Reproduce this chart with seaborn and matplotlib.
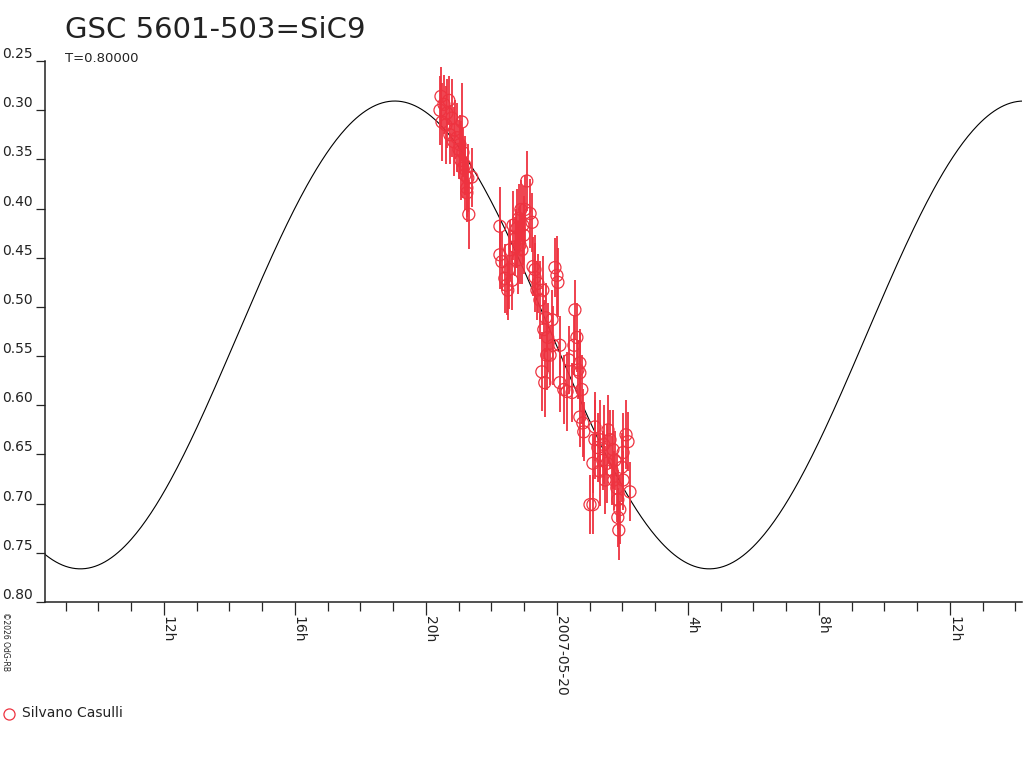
import numpy as np
import pandas as pd
import matplotlib
matplotlib.use("Agg")
import matplotlib.pyplot as plt
import seaborn as sns

################################################################################
# data: hours relative to 2007-05-20 00:00, magnitude, error
################################################################################

hours = [
    # first group, evening of 05-19
    -3.54, -3.57, -3.51, -3.45, -3.36, -3.30, -3.21, -3.12, -3.05, -2.99,
    -2.93, -2.87, -2.81, -2.75, -2.69, -3.39, -3.27, -3.15, -2.96, -2.87,
    -2.81, -2.72, -2.90, -2.60, -2.75,
    # second group
    -1.74, -1.74, -1.68, -1.59, -1.53, -1.47, -1.37, -1.34, -1.28, -1.22,
    -1.16, -1.10, -1.04, -0.98, -0.92, -0.82, -0.76, -1.13, -1.07, -1.50,
    -1.44, -1.19, -1.01, -1.25, -0.67, -0.58,
    # third group, around midnight
    -0.73, -0.67, -0.61, -0.52, -0.43, -0.06, 0.00, 0.03, -0.15, -0.28,
    -0.12, 0.09, -0.31, -0.21, -0.46, -0.37, 0.09, 0.21, 0.31, 0.46,
    0.55, 0.61, 0.52, 0.70, 0.64, 0.70, 0.76, 0.70, 0.79, 0.82,
    0.37, -0.40, -0.34,
    # fourth group
    1.01, 1.10, 1.16, 1.16, 1.10, 1.25, 1.31, 1.40, 1.47, 1.53,
    1.56, 1.62, 1.68, 1.71, 1.77, 1.83, 1.86, 1.92, 1.86, 1.89,
    1.98, 2.02, 2.02, 2.11, 2.17, 2.23, 1.31, 1.74, 1.43,
]

mags = [
    0.286, 0.300, 0.312, 0.294, 0.303, 0.290, 0.308, 0.320, 0.328, 0.340,
    0.351, 0.359, 0.366, 0.379, 0.406, 0.315, 0.325, 0.332, 0.335, 0.343,
    0.356, 0.369, 0.312, 0.368, 0.384,
    0.418, 0.447, 0.454, 0.471, 0.478, 0.462, 0.473, 0.417, 0.439, 0.420,
    0.410, 0.401, 0.417, 0.401, 0.372, 0.405, 0.414, 0.437, 0.442, 0.483,
    0.442, 0.452, 0.427, 0.430, 0.462, 0.476,
    0.459, 0.470, 0.483, 0.493, 0.483, 0.460, 0.468, 0.475, 0.513, 0.531,
    0.539, 0.539, 0.549, 0.549, 0.566, 0.577, 0.577, 0.584, 0.586, 0.587,
    0.503, 0.531, 0.539, 0.557, 0.564, 0.567, 0.584, 0.612, 0.618, 0.627,
    0.554, 0.523, 0.511,
    0.701, 0.701, 0.622, 0.635, 0.659, 0.643, 0.635, 0.656, 0.676, 0.659,
    0.625, 0.635, 0.666, 0.645, 0.656, 0.684, 0.696, 0.706, 0.714, 0.727,
    0.663, 0.648, 0.676, 0.630, 0.637, 0.688, 0.667, 0.676, 0.640,
]

errors = [
    0.030, 0.035, 0.040, 0.030, 0.035, 0.025, 0.040, 0.030, 0.035, 0.030,
    0.040, 0.030, 0.035, 0.030, 0.035, 0.040, 0.030, 0.035, 0.030, 0.025,
    0.030, 0.035, 0.040, 0.030, 0.030,
    0.040, 0.035, 0.030, 0.035, 0.030, 0.040, 0.030, 0.035, 0.030, 0.040,
    0.035, 0.030, 0.040, 0.035, 0.030, 0.035, 0.030, 0.040, 0.035, 0.030,
    0.030, 0.035, 0.040, 0.030, 0.035, 0.030,
    0.030, 0.035, 0.030, 0.040, 0.035, 0.030, 0.040, 0.035, 0.030, 0.035,
    0.040, 0.030, 0.035, 0.030, 0.040, 0.035, 0.030, 0.035, 0.040, 0.030,
    0.030, 0.035, 0.030, 0.035, 0.030, 0.040, 0.035, 0.030, 0.035, 0.030,
    0.035, 0.030, 0.035,
    0.030, 0.030, 0.035, 0.040, 0.030, 0.035, 0.040, 0.030, 0.035, 0.040,
    0.035, 0.030, 0.035, 0.040, 0.030, 0.035, 0.030, 0.035, 0.030, 0.030,
    0.035, 0.040, 0.030, 0.035, 0.030, 0.030, 0.035, 0.030, 0.040,
]

observer = "Silvano Casulli"

# fitted light curve: period T = 0.80000 d
period_h = 0.8 * 24
min_epoch_h = 4.65      # time of faintest point (hours from 05-20 00:00)
mean_mag = 0.5285
amplitude = 0.2378

tick_hours = [-12, -8, -4, 0, 4, 8, 12]
tick_labels = ["12h", "16h", "20h", "2007-05-20", "4h", "8h", "12h"]
mag_ticks = [0.25, 0.30, 0.35, 0.40, 0.45, 0.50, 0.55, 0.60, 0.65, 0.70, 0.75, 0.80]

df = pd.DataFrame({"hours": hours, "mag": mags, "err": errors})

t_model = np.linspace(-15.7, 14.3, 600)
df_model = pd.DataFrame({
    "hours": t_model,
    "mag": mean_mag + amplitude * np.cos(2 * np.pi * (t_model - min_epoch_h) / period_h),
})

################################################################################
# draw the plot
################################################################################

sns.set_style("white")
plt.rcParams["font.family"] = ["DejaVu Sans"]

red = "#ee3340"
ink = "#222222"
fig = plt.figure(figsize=(10.24, 7.68), dpi=100)
ax = fig.add_axes([45 / 1024, 1 - 602 / 768, (1022 - 45) / 1024, (602 - 61) / 768])

sns.lineplot(data=df_model, x="hours", y="mag", color="black", linewidth=0.8, ax=ax)
ax.errorbar(df["hours"], df["mag"], yerr=df["err"], fmt="none", ecolor=red,
            elinewidth=1.3, capsize=0, zorder=3)
sns.scatterplot(data=df, x="hours", y="mag", marker="o", s=75, facecolor="none",
                edgecolor=red, linewidth=0.9, ax=ax, zorder=4)

ax.set_xlim(-15.63, 14.2)
ax.set_ylim(0.80, 0.25)
ax.set_xlabel("")
ax.set_ylabel("")

ax.set_yticks(mag_ticks)
ax.set_yticklabels([f"{m:.2f}" for m in mag_ticks], fontsize=10, color=ink)
for lab in ax.get_yticklabels():
    lab.set_verticalalignment("bottom")
ax.tick_params(axis="y", direction="out", length=6.5, width=0.9, pad=2.5, left=True)

ax.set_xticks(tick_hours)
ax.set_xticklabels(tick_labels, rotation=270, fontsize=10, color=ink,
                   ha="left", va="baseline", rotation_mode="anchor")
ax.set_xticks(np.arange(-15, 15, 1), minor=True)
ax.tick_params(axis="x", which="major", direction="out", length=9, width=0.9, pad=1, bottom=True)
ax.tick_params(axis="x", which="minor", direction="out", length=6.5, width=0.9, bottom=True)

for side in ["top", "right"]:
    ax.spines[side].set_visible(False)
for side in ["left", "bottom"]:
    ax.spines[side].set_color(ink)
    ax.spines[side].set_linewidth(1.1)

fig.text(65 / 1024, 1 - 38 / 768, "GSC 5601-503=SiC9", fontsize=21, color=ink, va="baseline")
fig.text(65 / 1024, 1 - 62 / 768, "T=0.80000", fontsize=9.5, color=ink, va="baseline")
fig.text(1 / 1024, 1 - 612 / 768, "\u00a92026 OdG-RB", fontsize=5.5, rotation=270,
         ha="left", va="top", color=ink)

fig.text(22 / 1024, 1 - 713 / 768, observer, fontsize=10, color=ink, va="center")
fig.lines.append(plt.Line2D([9 / 1024], [1 - 714 / 768], marker="o", markersize=8,
                            markerfacecolor="none", markeredgecolor=red,
                            markeredgewidth=0.9, transform=fig.transFigure))

fig.savefig("out.png", dpi=100)
